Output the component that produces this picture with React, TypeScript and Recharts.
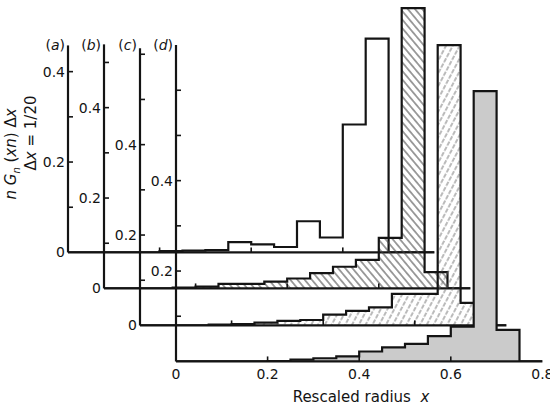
import { ComposedChart, Area, XAxis, YAxis, ReferenceLine } from "recharts";

// bin edges, delta x = 1/20
const binEdges = [0, 0.05, 0.1, 0.15, 0.2, 0.25, 0.3, 0.35, 0.4, 0.45, 0.5, 0.55, 0.6, 0.65, 0.7, 0.75, 0.8];

// n G_n(xn) dx for each bin starting at binEdges[i] (last entry closes the step)
const valuesA = [0, 0, 0, 0, 0.003, 0.004, 0.005, 0.023, 0.018, 0.012, 0.069, 0.033, 0.283, 0.473, 0, 0, 0];
const valuesB = [0, 0, 0, 0.002, 0.004, 0.01, 0.01, 0.015, 0.022, 0.034, 0.048, 0.063, 0.112, 0.62, 0.036, 0, 0];
const valuesC = [0, 0, 0, 0.002, 0.003, 0.006, 0.01, 0.012, 0.024, 0.032, 0.04, 0.07, 0.07, 0.62, 0.05, 0, 0];
const valuesD = [0, 0, 0, 0, 0.001, 0.004, 0.007, 0.011, 0.022, 0.031, 0.039, 0.056, 0.077, 0.598, 0.07, 0, 0];

const xTicks = [0, 0.2, 0.4, 0.6, 0.8];
const xTickLabels = ["0", "0.2", "0.4", "0.6", "0.8"];

const yTicksA = [0, 0.1, 0.2, 0.3, 0.4];
const yTicksB = [0, 0.1, 0.2, 0.3, 0.4, 0.5];
const yTicksC = [0, 0.1, 0.2, 0.3, 0.4, 0.5, 0.6];
const yTicksD = [0.1, 0.2, 0.3, 0.4, 0.5, 0.6];
const yLabelsABC = [0, 0.2, 0.4];
const yLabelsD = [0.2, 0.4];

// where each y axis stops
const axisTopA = 0.458;
const axisTopB = 0.54;
const axisTopC = 0.613;
const axisTopD = 0.7;

const panelNames = ["(a)", "(b)", "(c)", "(d)"];

// layout
const X_PX = 458;
const Y_PX = 452;
const X_MAX = 0.8;
const Y_MAX = 0.72;
const PLOT_W = X_MAX * X_PX;
const PLOT_H = Y_MAX * Y_PX;
const Y_AXIS_W = 40;
const X_AXIS_H = 30;
const M_RIGHT = 8;
const INK = "#141414";
const FONT = "'DejaVu Sans', sans-serif";

const origins = [
  [68, 252],
  [104, 288.5],
  [140, 325],
  [176, 361.5],
];

const fmt = (v: number) => (v === 0 ? "0" : v.toFixed(1));

const Panel = ({
  values,
  yTicks,
  yLabels,
  axisTop,
  fill,
  defs,
  showXLabels,
  ox,
  oy,
}: any) => {
  const data = binEdges.map((x, i) => ({ x, v: values[i] }));

  const renderXTick = (props: any) => {
    const { x, payload } = props;
    const v = payload.value;
    const idx = xTicks.indexOf(v);
    return (
      <g>
        {v > 0 && v < X_MAX && (
          <line x1={x} x2={x} y1={PLOT_H} y2={PLOT_H - 5} stroke={INK} strokeWidth={1.6} />
        )}
        {showXLabels && (
          <text x={x} y={PLOT_H + 18} textAnchor="middle" fontFamily={FONT} fontSize={14} fill={INK}>
            {xTickLabels[idx]}
          </text>
        )}
      </g>
    );
  };

  const renderYTick = (props: any) => {
    const { y, payload } = props;
    const v = payload.value;
    return (
      <g>
        {v > 0 && (
          <line x1={Y_AXIS_W} x2={Y_AXIS_W + 5} y1={y} y2={y} stroke={INK} strokeWidth={1.6} />
        )}
        {yLabels.includes(v) && (
          <text x={Y_AXIS_W - 3} y={y} dy="0.36em" textAnchor="end" fontFamily={FONT} fontSize={14} fill={INK}>
            {fmt(v)}
          </text>
        )}
      </g>
    );
  };

  return (
    <div style={{ position: "absolute", left: ox - Y_AXIS_W, top: oy - PLOT_H }}>
      <ComposedChart
        width={Y_AXIS_W + PLOT_W + M_RIGHT}
        height={PLOT_H + X_AXIS_H}
        data={data}
        margin={{ top: 0, right: M_RIGHT, bottom: 0, left: 0 }}
      >
        {defs}
        <XAxis
          dataKey="x"
          type="number"
          domain={[0, X_MAX]}
          ticks={xTicks}
          interval={0}
          height={X_AXIS_H}
          tickSize={0}
          tickLine={false}
          axisLine={{ stroke: INK, strokeWidth: 2.2 }}
          tick={renderXTick}
          allowDataOverflow
        />
        <YAxis
          type="number"
          domain={[0, Y_MAX]}
          ticks={yTicks}
          interval={0}
          width={Y_AXIS_W}
          tickSize={0}
          tickLine={false}
          axisLine={false}
          tick={renderYTick}
          allowDataOverflow
        />
        <Area
          type="stepAfter"
          dataKey="v"
          stroke={INK}
          strokeWidth={2.2}
          fill={fill}
          fillOpacity={1}
          dot={false}
          activeDot={false}
          isAnimationActive={false}
        />
        <ReferenceLine
          segment={[
            { x: 0, y: 0 },
            { x: 0, y: axisTop },
          ]}
          stroke={INK}
          strokeWidth={2.2}
        />
      </ComposedChart>
    </div>
  );
};

export default function App() {
  const panels = [
    { values: valuesA, yTicks: yTicksA, yLabels: yLabelsABC, axisTop: axisTopA, fill: "none", defs: null },
    {
      values: valuesB,
      yTicks: yTicksB,
      yLabels: yLabelsABC,
      axisTop: axisTopB,
      fill: "url(#hatchB)",
      defs: (
        <defs>
          <pattern id="hatchB" patternUnits="userSpaceOnUse" width={6} height={5.5} patternTransform="rotate(50)">
            <line x1={0} y1={2.75} x2={6} y2={2.75} stroke="#444" strokeWidth={1} />
          </pattern>
        </defs>
      ),
    },
    {
      values: valuesC,
      yTicks: yTicksC,
      yLabels: yLabelsABC,
      axisTop: axisTopC,
      fill: "url(#hatchC)",
      defs: (
        <defs>
          <pattern id="hatchC" patternUnits="userSpaceOnUse" width={6} height={6} patternTransform="rotate(-62)">
            <line x1={0} y1={3} x2={6} y2={3} stroke="#666" strokeWidth={0.9} strokeDasharray="3 1.5" />
          </pattern>
        </defs>
      ),
    },
    { values: valuesD, yTicks: yTicksD, yLabels: yLabelsD, axisTop: axisTopD, fill: "#cbcbcb", defs: null },
  ];

  return (
    <div
      style={{
        position: "absolute",
        left: 0,
        top: 0,
        width: 551,
        height: 409,
        overflow: "hidden",
        background: "#fff",
        fontFamily: FONT,
        color: INK,
      }}
    >
      {panels.map((p, i) => (
        <Panel key={i} {...p} showXLabels={i === 3} ox={origins[i][0]} oy={origins[i][1]} />
      ))}

      {panelNames.map((name, i) => (
        <div
          key={name}
          style={{
            position: "absolute",
            left: origins[i][0] - 33,
            width: 30,
            top: 37,
            textAlign: "right",
            fontSize: 14,
            lineHeight: "16px",
          }}
        >
          (<i>{name.slice(1, 2)}</i>)
        </div>
      ))}

      <div
        style={{
          position: "absolute",
          left: 11,
          top: 154,
          transform: "translate(-50%, -50%) rotate(-90deg)",
          whiteSpace: "nowrap",
          fontSize: 15,
          lineHeight: "17px",
        }}
      >
        <i>n</i> <i>G</i>
        <sub style={{ fontSize: 10, lineHeight: 0 }}>
          <i>n</i>
        </sub>{" "}
        (<i>xn</i>) Δ<i>x</i>
      </div>
      <div
        style={{
          position: "absolute",
          left: 31,
          top: 133,
          transform: "translate(-50%, -50%) rotate(-90deg)",
          whiteSpace: "nowrap",
          fontSize: 15,
          lineHeight: "17px",
        }}
      >
        Δ<i>x</i> = 1/20
      </div>

      <div
        style={{
          position: "absolute",
          left: 361,
          top: 397,
          transform: "translate(-50%, -50%)",
          whiteSpace: "nowrap",
          fontSize: 15,
        }}
      >
        Rescaled radius &nbsp;<i>x</i>
      </div>
    </div>
  );
}
